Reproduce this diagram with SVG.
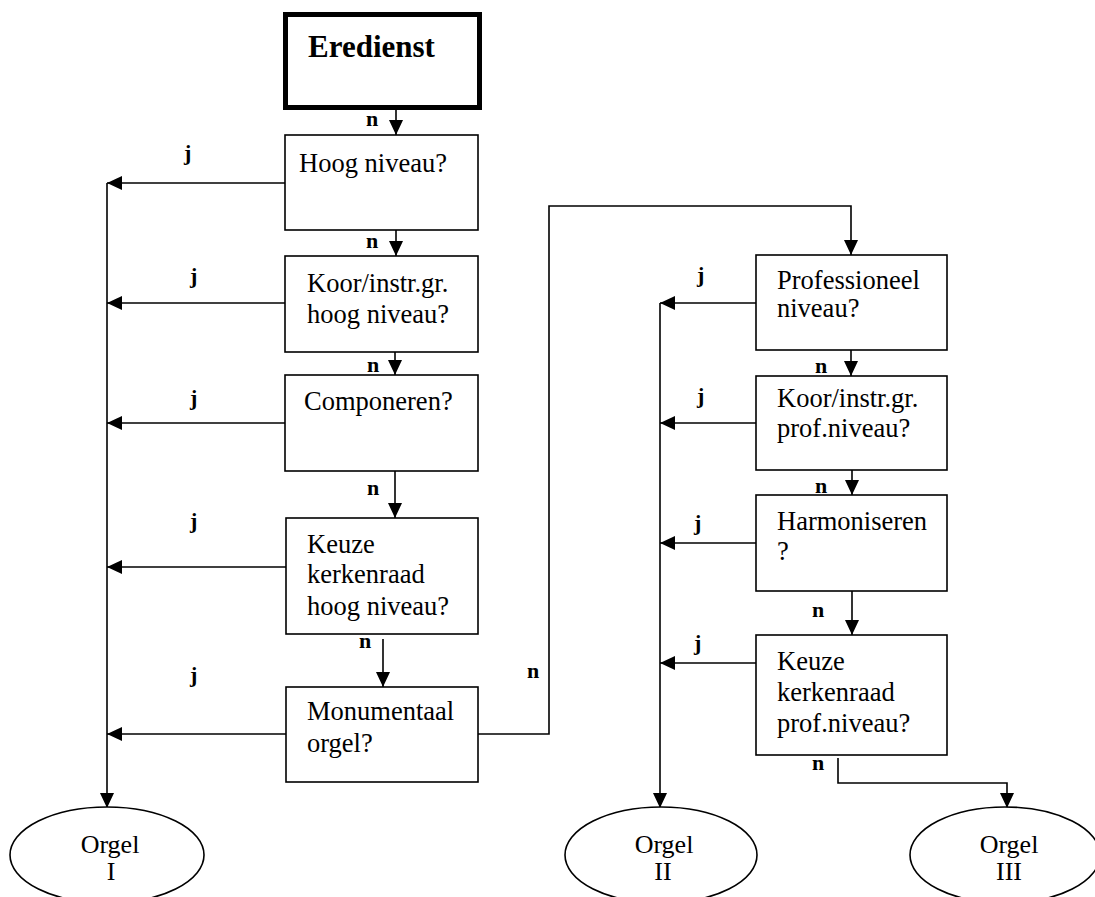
<svg xmlns="http://www.w3.org/2000/svg" width="1095" height="897" viewBox="0 0 1095 897">
<style>
.box{fill:#fff;stroke:#000;stroke-width:1.6}
.start{fill:#fff;stroke:#000;stroke-width:5}
.t{font-family:"Liberation Serif","Times New Roman",serif;font-size:26.5px;fill:#000}
.tb{font-family:"Liberation Serif","Times New Roman",serif;font-size:31px;font-weight:bold;fill:#000}
.lb{font-family:"Liberation Serif","Times New Roman",serif;font-size:22px;font-weight:bold;fill:#000}
.ot{font-family:"Liberation Serif","Times New Roman",serif;font-size:26px;fill:#000;text-anchor:middle}
.c{fill:none;stroke:#000;stroke-width:1.6}
</style>
<defs>
<marker id="ah" viewBox="0 0 15 14" refX="15" refY="7" markerWidth="15" markerHeight="14" markerUnits="userSpaceOnUse" orient="auto">
<path d="M0,0 L15,7 L0,14 Z" fill="#000"/>
</marker>
</defs>
<rect width="1095" height="897" fill="#fff"/>
<g id="connectors">
<path class="c" marker-end="url(#ah)" d="M396,110 V135"/>
<path class="c" marker-end="url(#ah)" d="M396,230 V256"/>
<path class="c" marker-end="url(#ah)" d="M395,352 V375"/>
<path class="c" marker-end="url(#ah)" d="M395,471 V518"/>
<path class="c" marker-end="url(#ah)" d="M383,639 V687"/>
<path class="c" marker-end="url(#ah)" d="M285,183 H107"/>
<path class="c" marker-end="url(#ah)" d="M285,303 H107"/>
<path class="c" marker-end="url(#ah)" d="M285,423 H107"/>
<path class="c" marker-end="url(#ah)" d="M286,567 H107"/>
<path class="c" marker-end="url(#ah)" d="M286,734 H107"/>
<path class="c" marker-end="url(#ah)" d="M107,183 V808"/>
<path class="c" marker-end="url(#ah)" d="M478,734 H549 V206 H851 V255"/>
<path class="c" marker-end="url(#ah)" d="M851,350 V376"/>
<path class="c" marker-end="url(#ah)" d="M852,470 V495"/>
<path class="c" marker-end="url(#ah)" d="M852,591 V635"/>
<path class="c" marker-end="url(#ah)" d="M756,303 H660"/>
<path class="c" marker-end="url(#ah)" d="M756,423 H660"/>
<path class="c" marker-end="url(#ah)" d="M756,543 H660"/>
<path class="c" marker-end="url(#ah)" d="M756,663 H660"/>
<path class="c" marker-end="url(#ah)" d="M660,303 V808"/>
<path class="c" marker-end="url(#ah)" d="M838,758 V783 H1007 V808"/>
<text class="lb" x="366" y="126">n</text>
<text class="lb" x="366" y="248">n</text>
<text class="lb" x="367" y="372">n</text>
<text class="lb" x="367" y="495">n</text>
<text class="lb" x="359" y="648">n</text>
<text class="lb" x="527" y="678">n</text>
<text class="lb" x="815" y="373">n</text>
<text class="lb" x="815" y="493">n</text>
<text class="lb" x="812" y="617">n</text>
<text class="lb" x="812" y="770">n</text>
<text class="lb" x="184" y="160">j</text>
<text class="lb" x="190" y="283">j</text>
<text class="lb" x="190" y="405">j</text>
<text class="lb" x="190" y="528">j</text>
<text class="lb" x="190" y="682">j</text>
<text class="lb" x="697" y="282">j</text>
<text class="lb" x="697" y="403">j</text>
<text class="lb" x="694" y="530">j</text>
<text class="lb" x="694" y="650">j</text>
</g>
<g id="eredienst">
<rect class="start" x="285.5" y="14.5" width="194" height="93"/>
<text class="tb" x="308" y="57">Eredienst</text>
</g>
<g id="hoog">
<rect class="box" x="285" y="135" width="193" height="95"/>
<text class="t" x="299" y="172">Hoog niveau?</text>
</g>
<g id="koor1">
<rect class="box" x="285" y="256" width="193" height="96"/>
<text class="t" x="307" y="292">Koor/instr.gr.</text>
<text class="t" x="307" y="323">hoog niveau?</text>
</g>
<g id="componeren">
<rect class="box" x="285" y="375" width="193" height="96"/>
<text class="t" x="304" y="410">Componeren?</text>
</g>
<g id="keuze1">
<rect class="box" x="286" y="518" width="192" height="116"/>
<text class="t" x="307" y="553">Keuze</text>
<text class="t" x="307" y="583">kerkenraad</text>
<text class="t" x="307" y="615">hoog niveau?</text>
</g>
<g id="monumentaal">
<rect class="box" x="286" y="687" width="192" height="95"/>
<text class="t" x="307" y="720">Monumentaal</text>
<text class="t" x="307" y="752">orgel?</text>
</g>
<g id="professioneel">
<rect class="box" x="756" y="255" width="191" height="95"/>
<text class="t" x="777" y="289">Professioneel</text>
<text class="t" x="777" y="317">niveau?</text>
</g>
<g id="koor2">
<rect class="box" x="756" y="376" width="191" height="94"/>
<text class="t" x="777" y="407">Koor/instr.gr.</text>
<text class="t" x="777" y="437">prof.niveau?</text>
</g>
<g id="harmoniseren">
<rect class="box" x="756" y="495" width="191" height="96"/>
<text class="t" x="777" y="530">Harmoniseren</text>
<text class="t" x="777" y="560">?</text>
</g>
<g id="keuze2">
<rect class="box" x="756" y="635" width="191" height="120"/>
<text class="t" x="777" y="670">Keuze</text>
<text class="t" x="777" y="701">kerkenraad</text>
<text class="t" x="777" y="732">prof.niveau?</text>
</g>
<g id="orgel1">
<ellipse class="box" cx="107" cy="855" rx="97" ry="48"/>
<text class="ot" x="110" y="853">Orgel</text>
<text class="ot" x="111" y="880">I</text>
</g>
<g id="orgel2">
<ellipse class="box" cx="661" cy="855" rx="96" ry="48"/>
<text class="ot" x="664" y="853">Orgel</text>
<text class="ot" x="663" y="880">II</text>
</g>
<g id="orgel3">
<ellipse class="box" cx="1005" cy="855" rx="95" ry="48"/>
<text class="ot" x="1009" y="853">Orgel</text>
<text class="ot" x="1009" y="880">III</text>
</g>
</svg>
